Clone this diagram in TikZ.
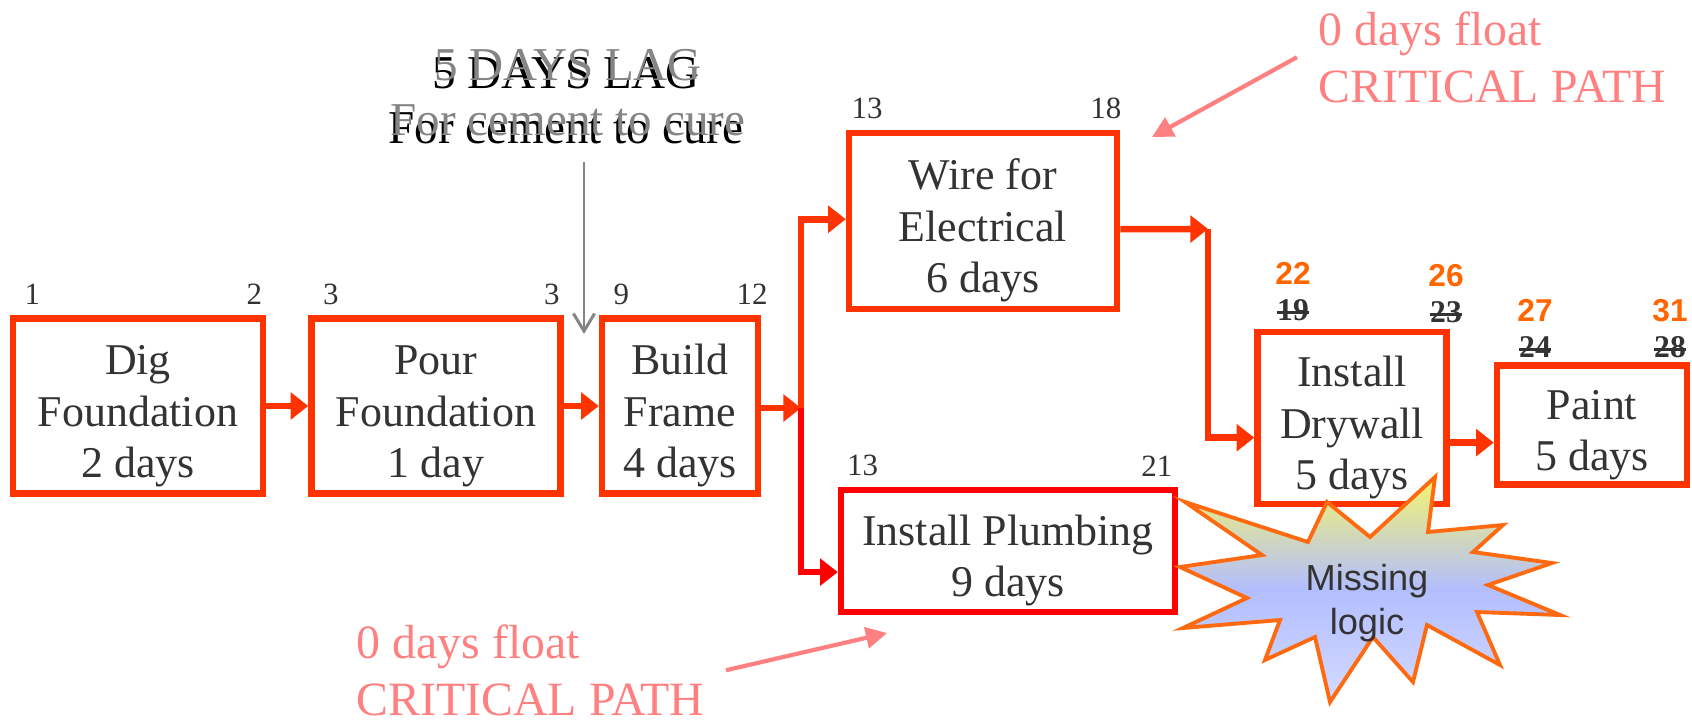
\documentclass[tikz,border=0pt]{standalone}
\usepackage{fontspec}
\setmainfont{Liberation Serif}
\setsansfont{Liberation Sans}
\usepackage{xcolor}
\usepackage{tikz}
\usetikzlibrary{arrows.meta,positioning}

\definecolor{critred}{HTML}{FF3300}
\definecolor{plumbred}{HTML}{FF0000}
\definecolor{floatpink}{HTML}{FF8080}
\definecolor{lateorange}{HTML}{FF6600}
\definecolor{txtgray}{HTML}{333333}
\definecolor{laggray}{HTML}{858585}
\definecolor{burstedge}{HTML}{FF6A10}
\definecolor{bursttop}{HTML}{F4F46E}
\definecolor{burstmid}{HTML}{B2BEFF}
\definecolor{burstbot}{HTML}{D4DAFF}

\newsavebox{\numbox}
\newcommand{\crossout}[1]{\sbox{\numbox}{#1}\rlap{\rule[0.45ex]{\wd\numbox}{0.7pt}}\usebox{\numbox}}
\newcommand{\topstrut}{\rule{0pt}{14.2pt}}

\begin{document}
\begin{tikzpicture}[
  x=0.1mm, y=-0.1mm,
  task/.style={rectangle, draw=critred, line width=1.85pt, fill=white,
               align=center, text=txtgray, inner sep=0pt,
               font=\fontsize{12.5}{14.6}\selectfont},
  num/.style={text=txtgray, inner sep=1pt, font=\fontsize{8.8}{10}\selectfont},
  early/.style={text=txtgray, inner sep=1pt,
                font=\bfseries\fontsize{9}{10}\selectfont},
  late/.style={text=lateorange, inner sep=1pt,
               font=\sffamily\bfseries\fontsize{9}{10}\selectfont},
  link/.style={-{Triangle[length=5pt,width=7.5pt]}, draw=critred,
               line width=1.85pt},
  lagtext/.style={align=center, inner sep=0pt,
                  font=\fontsize{13.4}{15.6}\selectfont},
  note/.style={text=floatpink, align=left, inner sep=0pt,
               font=\fontsize{13.6}{16.2}\selectfont},
  notearr/.style={-{Triangle[length=6pt,width=6pt]}, draw=floatpink,
                  line width=1.2pt},
  burst/.style={draw=burstedge, line width=1.1pt, top color=bursttop,
                bottom color=burstbot, middle color=burstmid},
]
  \useasboundingbox (0,0) rectangle (1692,723);

  % Activities
  \node[task, minimum width=25.0mm, minimum height=17.5mm] (dig) at (138,406) {\topstrut Dig\\Foundation\\2 days};
  \node[task, minimum width=24.9mm, minimum height=17.5mm] (pour) at (436,406) {\topstrut Pour\\Foundation\\1 day};
  \node[task, minimum width=15.6mm, minimum height=17.5mm] (build) at (680,406) {\topstrut Build\\Frame\\4 days};
  \node[task, minimum width=26.8mm, minimum height=17.6mm] (wire) at (983,221) {\topstrut Wire for\\Electrical\\6 days};
  \node[task, draw=plumbred, minimum width=33.4mm, minimum height=12.2mm] (plumb) at (1008,551) {\topstrut Install Plumbing\\9 days};
  \node[task, minimum width=18.9mm, minimum height=17.2mm] (dry) at (1352,418) {\topstrut Install\\Drywall\\5 days};
  \node[task, minimum width=19mm, minimum height=11.9mm] (paint) at (1592,425) {\topstrut Paint\\5 days};

  % Start / finish days
  \node[num, anchor=south west] (digS) at ([xshift=3pt,yshift=1.8pt]dig.north west) {1};
  \node[num, anchor=south east] (digF) at ([yshift=1.8pt]dig.north east) {2};
  \node[num, anchor=south west] (pourS) at ([xshift=3pt,yshift=1.8pt]pour.north west) {3};
  \node[num, anchor=south east] (pourF) at ([yshift=1.8pt]pour.north east) {3};
  \node[num, anchor=south west] (buildS) at ([xshift=3pt,yshift=1.8pt]build.north west) {9};
  \node[num, anchor=south east] (buildF) at ([xshift=3pt,yshift=1.8pt]build.north east) {12};
  \node[num, anchor=south west] (wireS) at ([xshift=0.5pt,yshift=1.8pt]wire.north west) {13};
  \node[num, anchor=south east] (wireF) at ([xshift=1.5pt,yshift=1.8pt]wire.north east) {18};
  \node[num, anchor=south west] (plumbS) at ([xshift=1.5pt,yshift=1.8pt]plumb.north west) {13};
  \node[num, anchor=south east] (plumbF) at ([xshift=-0.5pt,yshift=1.8pt]plumb.north east) {21};

  % Revised days
  \node[early] (dryS) at (1293,310) {\crossout{19}};
  \node[late, above=1.8pt of dryS] (dryLS) {22};
  \node[early] (dryF) at (1446,312) {\crossout{23}};
  \node[late, above=1.8pt of dryF] (dryLF) {26};
  \node[early] (paintS) at (1535,347) {\crossout{24}};
  \node[late, above=1.8pt of paintS] (paintLS) {27};
  \node[early] (paintF) at (1670,347) {\crossout{28}};
  \node[late, above=1.8pt of paintF] (paintLF) {31};

  % Links
  \coordinate (split) at (801,408);
  \coordinate (merge) at (1208,229);
  \coordinate (dpA) at ([yshift=-7pt]dry.east);
  \draw[link] (dig) -- (pour);
  \draw[link] (pour) -- (build);
  \draw[link] (build.east |- split) -- (split);
  \draw[link] (split) |- ([yshift=0.5pt]wire.west);
  \draw[link, draw=plumbred] (split) |- ([yshift=-6pt]plumb.west);
  \draw[link] ([yshift=-2.3pt]wire.east) -- (merge);
  \draw[link] (merge) |- ([yshift=-5.6pt]dry.west);
  \draw[link] (dpA) -- (dpA -| paint.west);

  % Lag note
  \node[lagtext, anchor=north] (lag) at (566,57) {5 DAYS LAG\\For cement to cure};
  \node[lagtext, anchor=north, text=laggray] (lagghost) at (568,49) {5 DAYS LAG\\For cement to cure};
  \coordinate (lagTop) at (584,162);
  \coordinate (lagTip) at (584,334);
  \draw[-{Straight Barb[length=5pt,width=6pt]}, draw=laggray, line width=0.85pt] (lagTop) -- (lagTip);

  % Float notes
  \node[note, anchor=north west] (topnote) at (1318,11) {0 days float\\CRITICAL PATH};
  \node[note, anchor=north west] (botnote) at (356,624) {0 days float\\CRITICAL PATH};
  \coordinate (wirePt) at (1152,137);
  \coordinate (plumbPt) at (887,633);
  \draw[notearr] ([xshift=-6pt]topnote.west) -- (wirePt);
  \draw[notearr] ([xshift=6pt]botnote.east) -- (plumbPt);

  % Missing logic burst
  \draw[burst] (1185,502) -- (1308,542) -- (1327,502) -- (1370,537) -- (1435,477)
    -- (1428,532) -- (1503,525) -- (1473,552) -- (1552,563) -- (1488,585)
    -- (1560,615) -- (1477,612) -- (1500,665) -- (1427,625) -- (1413,682)
    -- (1373,637) -- (1330,702) -- (1315,637) -- (1265,660) -- (1280,620)
    -- (1183,628) -- (1247,598) -- (1180,567) -- (1262,555) -- cycle;
  \node[align=center, text=txtgray, inner sep=0pt,
        font=\sffamily\fontsize{10.3}{12.6}\selectfont] (missing) at (1367,603) {Missing\\logic};
\end{tikzpicture}
\end{document}
